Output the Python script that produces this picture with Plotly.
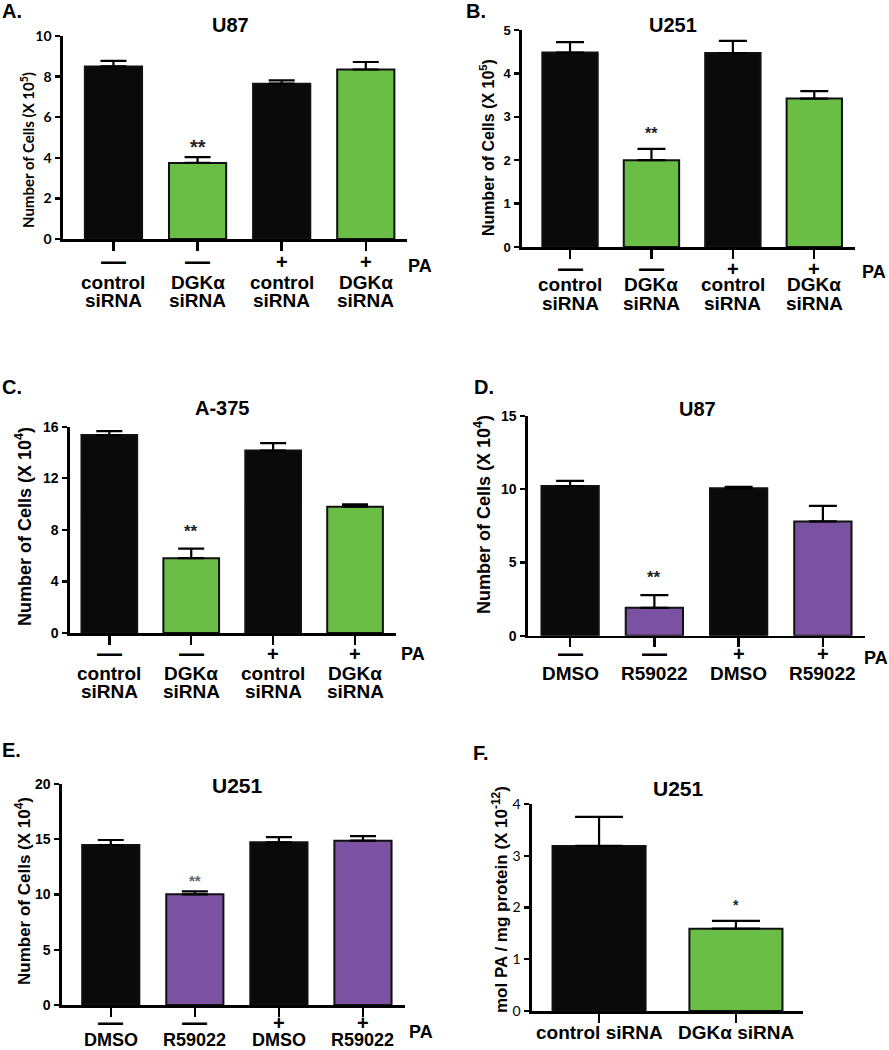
import plotly.graph_objects as go

W, H = 889, 1050

# ---------------- data ----------------
pa_row = ["—", "—", "+", "+"]
sirna_line1 = ["control", "DGKα", "control", "DGKα"]
sirna_line2 = ["siRNA", "siRNA", "siRNA", "siRNA"]
drug_labels = ["DMSO", "R59022", "DMSO", "R59022"]
f_labels = ["control siRNA", "DGKα siRNA"]

a_vals = [8.50, 3.75, 7.65, 8.35]
a_err = [0.27, 0.28, 0.16, 0.37]
b_vals = [4.48, 2.00, 4.47, 3.42]
b_err = [0.24, 0.26, 0.28, 0.17]
c_vals = [15.35, 5.80, 14.15, 9.80]
c_err = [0.30, 0.75, 0.57, 0.18]
d_vals = [10.22, 1.90, 10.07, 7.80]
d_err = [0.35, 0.87, 0.10, 1.07]
e_vals = [14.48, 10.02, 14.72, 14.87]
e_err = [0.45, 0.27, 0.48, 0.42]
f_vals = [3.19, 1.59]
f_err = [0.56, 0.15]

BLACK = "#0a0a0a"
GREEN = "#6abd45"
PURPLE = "#7b52a1"
AR = "Liberation Sans"
CAL = "Lato"


def fx(x):
    return x / W


def fy(y):
    return 1 - y / H


panels = [
    dict(n=1, vals=a_vals, err=a_err, colors=[BLACK, GREEN, BLACK, GREEN],
         xd=(63, 407), yd=(36, 239), ymax=10, dtick=2, xr=(-0.6, 3.49), cap=13,
         tickfont=dict(family=CAL, size=14, color="black", weight="bold"),
         title="U87", tpos=(230, 25), tsize=20, letter="A.", lpos=(12, 11), lsize=20,
         ytitle="Number of Cells (X 10<sup>5</sup>)", ytpos=(28, 150), ytsize=15, ytfont=CAL,
         star="**", star_i=1, star_off=14, star_size=20, star_col="#222222",
         pa=pa_row, pay=261, lines=[(sirna_line1, 282), (sirna_line2, 300)], pax=(420, 266)),
    dict(n=2, vals=b_vals, err=b_err, colors=[BLACK, GREEN, BLACK, GREEN],
         xd=(522, 855), yd=(30, 247), ymax=5, dtick=1, xr=(-0.59, 3.5), cap=14,
         tickfont=dict(family=AR, size=13, color="black", weight="bold"),
         title="U251", tpos=(673, 25), tsize=20, letter="B.", lpos=(476, 11), lsize=20,
         ytitle="Number of Cells (X 10<sup>5</sup>)", ytpos=(487, 148), ytsize=16, ytfont=AR,
         star="**", star_i=1, star_off=18, star_size=16, star_col="#222222",
         pa=pa_row, pay=268, lines=[(sirna_line1, 285), (sirna_line2, 303)], pax=(874, 272)),
    dict(n=3, vals=c_vals, err=c_err, colors=[BLACK, GREEN, BLACK, GREEN],
         xd=(70, 396), yd=(426.7, 633), ymax=16, dtick=4, xr=(-0.48, 3.5), cap=13,
         tickfont=dict(family=AR, size=14, color="black", weight="bold"),
         title="A-375", tpos=(222, 408), tsize=20, letter="C.", lpos=(12, 387), lsize=20,
         ytitle="Number of Cells (X 10<sup>4</sup>)", ytpos=(23, 527), ytsize=18, ytfont=AR,
         star="**", star_i=1, star_off=20, star_size=17, star_col="#222222",
         pa=pa_row, pay=653, lines=[(sirna_line1, 673), (sirna_line2, 691)], pax=(413, 654)),
    dict(n=4, vals=d_vals, err=d_err, colors=[BLACK, PURPLE, BLACK, PURPLE],
         xd=(528, 865), yd=(416, 635.7), ymax=15, dtick=5, xr=(-0.5, 3.5), cap=14,
         tickfont=dict(family=AR, size=14, color="black", weight="bold"),
         title="U87", tpos=(697, 409), tsize=20, letter="D.", lpos=(484, 387), lsize=20,
         ytitle="Number of Cells (X 10<sup>4</sup>)", ytpos=(482, 514), ytsize=18, ytfont=AR,
         star="**", star_i=1, star_off=21, star_size=17, star_col="#222222",
         pa=pa_row, pay=653, lines=[(drug_labels, 673)], pax=(876, 658)),
    dict(n=5, vals=e_vals, err=e_err, colors=[BLACK, PURPLE, BLACK, PURPLE],
         xd=(62, 405), yd=(784, 1005), ymax=20, dtick=5, xr=(-0.58, 3.5), cap=13,
         tickfont=dict(family=AR, size=14, color="black", weight="bold"),
         title="U251", tpos=(237, 785), tsize=21, letter="E.", lpos=(11, 750), lsize=20,
         ytitle="Number of Cells (X 10<sup>4</sup>)", ytpos=(23, 891), ytsize=17, ytfont=AR,
         star="**", star_i=1, star_off=13, star_size=15, star_col="#666666",
         pa=pa_row, pay=1022, lines=[(drug_labels, 1040)], pax=(421, 1032)),
    dict(n=6, vals=f_vals, err=f_err, colors=[BLACK, GREEN],
         xd=(532, 803), yd=(804, 1011), ymax=4, dtick=1, xr=(-0.49, 1.49), cap=24,
         tickfont=dict(family=CAL, size=14, color="black"),
         title="U251", tpos=(678, 788), tsize=21, letter="F.", lpos=(481, 753), lsize=20,
         ytitle="mol PA / mg protein (X 10<sup>-12</sup>)", ytpos=(500, 900), ytsize=17, ytfont=AR,
         star="*", star_i=1, star_off=18, star_size=14, star_col="#222222",
         pa=None, pay=None, lines=[(f_labels, 1032)], pax=None),
]

fig = go.Figure()
annotations = []
layout = {}


def txt(text, x, y, size, family=AR, xref="paper", yref="paper", angle=0, color="black", **kw):
    d = dict(text=text, x=x, y=y, xref=xref, yref=yref, showarrow=False,
             xanchor="center", yanchor="middle", textangle=angle,
             font=dict(family=family, size=size, color=color))
    d.update(kw)
    return d


for p in panels:
    n = p["n"]
    xs = list(range(len(p["vals"])))
    xa = "x" if n == 1 else f"x{n}"
    ya = "y" if n == 1 else f"y{n}"
    fig.add_trace(go.Bar(
        x=xs, y=p["vals"], width=0.68, xaxis=xa, yaxis=ya,
        marker=dict(color=p["colors"], line=dict(color="#111111", width=2)),
        error_y=dict(type="data", symmetric=False, array=p["err"],
                     arrayminus=[0] * len(p["vals"]), color="black",
                     thickness=2.2, width=p["cap"]),
        showlegend=False, hoverinfo="skip",
    ))
    kx = "xaxis" if n == 1 else f"xaxis{n}"
    ky = "yaxis" if n == 1 else f"yaxis{n}"
    layout[kx] = dict(
        domain=[fx(p["xd"][0]), fx(p["xd"][1])], range=list(p["xr"]),
        anchor=ya, showline=True, linewidth=2.6, linecolor="black",
        ticks="outside", ticklen=9, tickwidth=2.4, tickcolor="black",
        tickvals=xs, showticklabels=False, showgrid=False, zeroline=False,
    )
    layout[ky] = dict(
        domain=[fy(p["yd"][1]), fy(p["yd"][0])], range=[0, p["ymax"]],
        dtick=p["dtick"], tick0=0, anchor=xa, showline=True, linewidth=2.6,
        linecolor="black", ticks="outside", ticklen=5, tickwidth=2.4,
        tickcolor="black", tickfont=p["tickfont"], showgrid=False, zeroline=False,
        ticklabelstandoff=1,
    )
    annotations.append(txt(f"<b>{p['title']}</b>", fx(p["tpos"][0]), fy(p["tpos"][1]), p["tsize"]))
    annotations.append(txt(f"<b>{p['letter']}</b>", fx(p["lpos"][0]), fy(p["lpos"][1]), p["lsize"]))
    annotations.append(txt(f"<b>{p['ytitle']}</b>", fx(p["ytpos"][0]), fy(p["ytpos"][1]),
                           p["ytsize"], family=p["ytfont"], angle=-90))
    i = p["star_i"]
    annotations.append(txt(f"<b>{p['star']}</b>", i, p["vals"][i] + p["err"][i], p["star_size"],
                           xref=xa, yref=ya, color=p["star_col"],
                           yshift=p["star_off"] - 0.17 * p["star_size"]))
    if p["pa"] is not None:
        for j, s in enumerate(p["pa"]):
            if s == "—":
                annotations.append(txt("<b>—</b>", j, fy(p["pay"]), 25, xref=xa))
            else:
                annotations.append(txt("<b>+</b>", j, fy(p["pay"] + 1), 20, xref=xa))
        annotations.append(txt("<b>PA</b>", fx(p["pax"][0]), fy(p["pax"][1]), 18))
    for labels, ly in p["lines"]:
        for j, s in enumerate(labels):
            annotations.append(txt(f"<b>{s}</b>", j, fy(ly), 19 if ly < 1035 else 18, xref=xa))

layout["annotations"] = annotations
fig.update_layout(width=W, height=H, margin=dict(l=0, r=0, t=0, b=0, autoexpand=False),
                  paper_bgcolor="white", plot_bgcolor="white", showlegend=False,
                  **layout)

fig.write_html("out.html", config={"displayModeBar": False, "staticPlot": True},
               post_script="document.body.style.margin='0';document.body.style.overflow='hidden';")
